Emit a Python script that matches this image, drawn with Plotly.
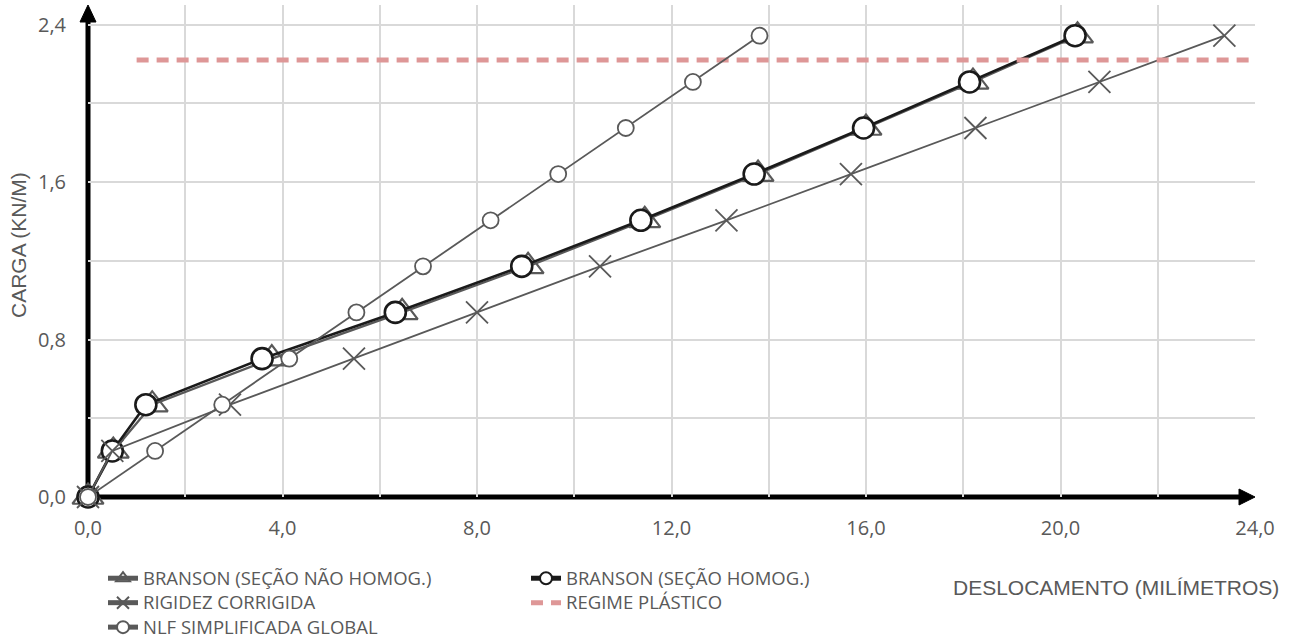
import plotly.graph_objects as go

# ---- data ----
carga = [0, 0.234, 0.469, 0.703, 0.938, 1.172, 1.406, 1.641, 1.875, 2.109, 2.344]
branson_nao_homog = [0, 0.52, 1.32, 3.78, 6.46, 9.05, 11.45, 13.78, 16.0, 18.2, 20.35]
branson_homog = [0, 0.50, 1.19, 3.58, 6.32, 8.92, 11.37, 13.70, 15.95, 18.13, 20.30]
rigidez_corrigida = [0, 0.50, 2.92, 5.47, 8.00, 10.53, 13.13, 15.69, 18.25, 20.80, 23.37]
nlf_simplificada = [0, 1.38, 2.76, 4.14, 5.52, 6.89, 8.28, 9.67, 11.06, 12.44, 13.81]
regime_plastico_x = [1.0, 24.0]
regime_plastico_y = [2.22, 2.22]

names = ["BRANSON (SEÇÃO NÃO HOMOG.)", "BRANSON (SEÇÃO HOMOG.)",
         "RIGIDEZ CORRIGIDA", "REGIME PLÁSTICO", "NLF SIMPLIFICADA GLOBAL"]
x_ticks = [0, 4, 8, 12, 16, 20, 24]
y_ticks = [0, 0.8, 1.6, 2.4]

GRAY = "#595959"
W, H = 1296, 638
ML, MR, MT, MB = 88, 41, 5, 141
PW, PH = W - ML - MR, H - MT - MB


def lg(name):
    # legend label slightly larger than the row spacing font
    return f'<span style="font-size:18.5px">{name}</span>'


fig = go.Figure()
fig.add_trace(go.Scatter(x=branson_nao_homog, y=carga, name=lg(names[0]), mode="lines+markers",
                         line=dict(color=GRAY, width=2.2),
                         marker=dict(symbol="triangle-up-open", size=27, color=GRAY,
                                     line=dict(width=2.2, color=GRAY)),
                         cliponaxis=False))
fig.add_trace(go.Scatter(x=branson_homog, y=carga, name=lg(names[1]), mode="lines+markers",
                         line=dict(color="#1a1a1a", width=2.6),
                         marker=dict(symbol="circle", size=21, color="white",
                                     line=dict(width=2.6, color="#1a1a1a")),
                         cliponaxis=False))
fig.add_trace(go.Scatter(x=rigidez_corrigida, y=carga, name=lg(names[2]), mode="lines+markers",
                         line=dict(color=GRAY, width=1.8),
                         marker=dict(symbol="x-thin-open", size=22, color=GRAY,
                                     line=dict(width=1.8, color=GRAY)),
                         cliponaxis=False))
fig.add_trace(go.Scatter(x=regime_plastico_x, y=regime_plastico_y, name=lg(names[3]), mode="lines",
                         line=dict(color="#DE9797", width=5, dash="12px,8px"),
                         cliponaxis=False))
fig.add_trace(go.Scatter(x=nlf_simplificada, y=carga, name=lg(names[4]), mode="lines+markers",
                         line=dict(color=GRAY, width=1.8),
                         marker=dict(symbol="circle", size=16, color="white",
                                     line=dict(width=1.8, color=GRAY)),
                         cliponaxis=False))

grid = "#d9d9d9"
fig.update_xaxes(range=[0, 24], tickvals=x_ticks, tickformat=".1f", showgrid=True,
                 gridcolor=grid, gridwidth=2, zeroline=False, showline=False, ticks="",
                 minor=dict(dtick=2, showgrid=True, gridcolor=grid, gridwidth=2, ticks=""),
                 tickfont=dict(family="Open Sans", size=20, color=GRAY),
                 ticklabelstandoff=17, fixedrange=True, automargin=False)
fig.update_yaxes(range=[0, 2.5], tickvals=y_ticks, tickformat=".1f", showgrid=True,
                 gridcolor=grid, gridwidth=2, zeroline=False, showline=False, ticks="",
                 minor=dict(dtick=0.4, showgrid=True, gridcolor=grid, gridwidth=2, ticks=""),
                 tickfont=dict(family="Open Sans", size=20, color=GRAY),
                 ticklabelstandoff=21, fixedrange=True, automargin=False)

# axis lines with arrowheads (paper coordinates)
ax = 8 / PW
ay = 17 / PH
bx = 16 / PW
by = 8 / PH
shapes = [
    dict(type="line", xref="paper", yref="paper", x0=0, x1=0, y0=-2.5 / PH, y1=1 - ay,
         line=dict(color="black", width=5), layer="between"),
    dict(type="path", xref="paper", yref="paper",
         path=f"M {-ax},{1 - ay} L 0,1 L {ax},{1 - ay} Z",
         fillcolor="black", line=dict(color="black", width=1), layer="between"),
    dict(type="line", xref="paper", yref="paper", x0=-2.5 / PW, x1=1 - bx, y0=0, y1=0,
         line=dict(color="black", width=5), layer="between"),
    dict(type="path", xref="paper", yref="paper",
         path=f"M {1 - bx},{-by} L 1,0 L {1 - bx},{by} Z",
         fillcolor="black", line=dict(color="black", width=1), layer="between"),
]

annotations = [
    dict(text="DESLOCAMENTO (MILÍMETROS)", xref="paper", yref="paper",
         x=(1281 - ML) / PW, y=-(587 - (MT + PH)) / PH, xanchor="right", yanchor="middle",
         showarrow=False, font=dict(family="Liberation Sans, Arial", size=21, color=GRAY)),
    dict(text="CARGA (KN/M)", xref="paper", yref="paper", textangle=-90,
         x=(18 - ML) / PW, y=((MT + PH) - 245) / PH, xanchor="center", yanchor="middle",
         showarrow=False, font=dict(family="Liberation Sans, Arial", size=21, color=GRAY)),
]

fig.update_layout(
    width=W, height=H, margin=dict(l=ML, r=MR, t=MT, b=MB, autoexpand=False),
    paper_bgcolor="white", plot_bgcolor="white",
    separators=",.",
    shapes=shapes, annotations=annotations,
    showlegend=True,
    legend=dict(orientation="h", x=(103 - ML) / PW, xanchor="left",
                y=-(561 - (MT + PH)) / PH, yanchor="top",
                entrywidth=378, entrywidthmode="pixels", traceorder="normal",
                font=dict(family="Open Sans", size=16.5, color=GRAY),
                itemsizing="constant", bgcolor="rgba(0,0,0,0)", tracegroupgap=0),
)

fig.write_html("out.html", config={"displayModeBar": False},
               post_script="document.body.style.margin='0px';document.body.style.overflow='hidden';")
